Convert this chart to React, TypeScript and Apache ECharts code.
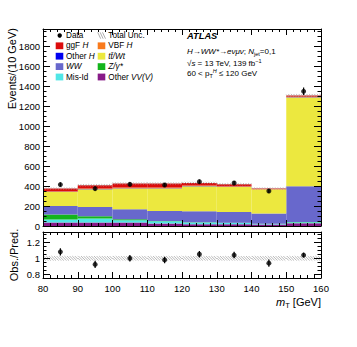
import React, { useEffect, useRef } from "react";
import * as echarts from "echarts";

// ---- data ----
const binLow = [80, 90, 100, 110, 120, 130, 140, 150];
const binWidth = 10;
const otherVV = [34, 34, 34, 24, 17, 17, 14, 27];
const misId = [30, 40, 23, 23, 17, 13, 6, 10];
const zGamma = [50, 23, 10, 3, 3, 2, 2, 2];
const wwBkg = [86, 93, 100, 100, 110, 108, 102, 358];
const topBkg = [140, 177, 207, 224, 250, 250, 240, 887];
const otherH = [3, 3, 3, 3, 3, 3, 2, 3];
const vbfH = [5, 5, 8, 8, 5, 5, 3, 5];
const ggfH = [26, 32, 39, 39, 25, 19, 5, 12];
const dataObs = [414, 374, 417, 410, 443, 430, 350, 1347];
const dataErr = [20, 19, 20, 20, 21, 21, 19, 37];
const ratioObs = [1.08, 0.925, 1.0, 0.98, 1.05, 1.04, 0.94, 1.04];
const ratioErr = [0.045, 0.045, 0.04, 0.04, 0.04, 0.04, 0.045, 0.03];
const mainUncRel = [0.03, 0.03, 0.028, 0.028, 0.028, 0.028, 0.03, 0.012];
const ratioUnc = [0.028, 0.028, 0.028, 0.028, 0.028, 0.028, 0.028, 0.028];
const xMajor = [80, 90, 100, 110, 120, 130, 140, 150, 160];
const xMinor = [82, 84, 86, 88, 92, 94, 96, 98, 102, 104, 106, 108, 112, 114, 116, 118, 122, 124, 126, 128, 132, 134, 136, 138, 142, 144, 146, 148, 152, 154, 156, 158];
const yMajor = [0, 200, 400, 600, 800, 1000, 1200, 1400, 1600, 1800];
const yMinor = [50, 100, 150, 250, 300, 350, 450, 500, 550, 650, 700, 750, 850, 900, 950, 1050, 1100, 1150, 1250, 1300, 1350, 1450, 1500, 1550, 1650, 1700, 1750, 1850, 1900, 1950];
const rMajor = [0.8, 1, 1.2];
const rMinor = [0.85, 0.9, 0.95, 1.05, 1.1, 1.15, 1.25, 1.3];

const components = [
  { name: "Other VV(V)", values: otherVV, color: "#881a88" },
  { name: "Mis-Id", values: misId, color: "#50e6e6" },
  { name: "Z/γ*", values: zGamma, color: "#14b41c" },
  { name: "WW", values: wwBkg, color: "#6868cc" },
  { name: "tt/Wt", values: topBkg, color: "#ece83f" },
  { name: "Other H", values: otherH, color: "#0000f0" },
  { name: "VBF H", values: vbfH, color: "#f97a1c" },
  { name: "ggF H", values: ggfH, color: "#dc0c0c" },
];

const FONT = "'Liberation Sans', Arial, Helvetica, sans-serif";

function axis(grid: number, position: string, min: number, max: number, ticks: number[], len: number, line: boolean, labels?: number[], extra?: any) {
  return {
    type: "value",
    gridIndex: grid,
    position,
    min,
    max,
    z: 10,
    axisLine: { show: line, onZero: false, lineStyle: { color: "#000", width: 1 } },
    axisTick: { show: true, inside: true, length: len, customValues: ticks, lineStyle: { color: "#000", width: 1 } },
    axisLabel: labels
      ? { show: true, customValues: labels, color: "#000", fontSize: 9.5, fontFamily: FONT, margin: 3, formatter: (v: number) => String(v), ...(extra || {}) }
      : { show: false },
    splitLine: { show: false },
    minorTick: { show: false },
  };
}

function rectRender(color: string) {
  return (params: any, api: any) => {
    const a = api.coord([api.value(0), api.value(3)]);
    const b = api.coord([api.value(1), api.value(2)]);
    return {
      type: "rect",
      shape: { x: a[0], y: a[1], width: b[0] - a[0], height: b[1] - a[1] },
      style: { fill: color },
    };
  };
}

function hatchRender(color: string) {
  return (params: any, api: any) => {
    const a = api.coord([api.value(0), api.value(3)]);
    const b = api.coord([api.value(1), api.value(2)]);
    const left = a[0], right = b[0], top = a[1], bot = b[1];
    const h = Math.max(bot - top, 0.8);
    const children: any[] = [];
    for (let s = left - h; s < right; s += 2.6) {
      const tmin = Math.max(0, (left - s) / h);
      const tmax = Math.min(1, (right - s) / h);
      if (tmax > tmin) {
        children.push({
          type: "line",
          shape: { x1: s + tmin * h, y1: top + tmin * h, x2: s + tmax * h, y2: top + tmax * h },
          style: { stroke: color, lineWidth: 0.7 },
        });
      }
    }
    return { type: "group", children };
  };
}

function errRender(params: any, api: any) {
  const a = api.coord([api.value(0), api.value(1) + api.value(2)]);
  const b = api.coord([api.value(0), api.value(1) - api.value(2)]);
  return {
    type: "line",
    shape: { x1: a[0], y1: a[1], x2: b[0], y2: b[1] },
    style: { stroke: "#000", lineWidth: 1.2 },
  };
}

export default function App() {
  const ref = useRef<HTMLDivElement>(null);
  useEffect(() => {
    if (!ref.current) return;
    const chart = echarts.init(ref.current, null, { renderer: "svg" });

    const series: any[] = [];
    const base = binLow.map(() => 0);
    components.forEach((c) => {
      const data = binLow.map((x, i) => {
        const d = [x, x + binWidth, base[i], base[i] + c.values[i]];
        base[i] += c.values[i];
        return d;
      });
      series.push({
        type: "custom",
        name: c.name,
        xAxisIndex: 0,
        yAxisIndex: 0,
        renderItem: rectRender(c.color),
        encode: { x: [0, 1], y: [2, 3] },
        data,
        z: 2,
        silent: true,
      });
    });
    const totals = base.slice();
    series.push({
      type: "custom",
      name: "Total Unc.",
      xAxisIndex: 0,
      yAxisIndex: 0,
      renderItem: hatchRender("#999"),
      encode: { x: [0, 1], y: [2, 3] },
      data: binLow.map((x, i) => [x, x + binWidth, totals[i] * (1 - mainUncRel[i]), totals[i] * (1 + mainUncRel[i])]),
      z: 3,
      silent: true,
    });
    series.push({
      type: "custom",
      name: "Data err",
      xAxisIndex: 0,
      yAxisIndex: 0,
      renderItem: errRender,
      encode: { x: 0, y: 1 },
      data: binLow.map((x, i) => [x + binWidth / 2, dataObs[i], dataErr[i]]),
      z: 4,
      silent: true,
    });
    series.push({
      type: "scatter",
      name: "Data",
      xAxisIndex: 0,
      yAxisIndex: 0,
      symbol: "circle",
      symbolSize: 5,
      itemStyle: { color: "#000" },
      data: binLow.map((x, i) => [x + binWidth / 2, dataObs[i]]),
      z: 5,
      silent: true,
    });
    // ratio panel
    series.push({
      type: "custom",
      name: "Ratio Unc.",
      xAxisIndex: 4,
      yAxisIndex: 4,
      renderItem: hatchRender("#999"),
      encode: { x: [0, 1], y: [2, 3] },
      data: binLow.map((x, i) => [x, x + binWidth, 1 - ratioUnc[i], 1 + ratioUnc[i]]),
      z: 3,
      silent: true,
    });
    series.push({
      type: "custom",
      name: "Ratio err",
      xAxisIndex: 4,
      yAxisIndex: 4,
      renderItem: errRender,
      encode: { x: 0, y: 1 },
      data: binLow.map((x, i) => [x + binWidth / 2, ratioObs[i], ratioErr[i]]),
      z: 4,
      silent: true,
    });
    series.push({
      type: "scatter",
      name: "Ratio",
      xAxisIndex: 4,
      yAxisIndex: 4,
      symbol: "circle",
      symbolSize: 5,
      itemStyle: { color: "#000" },
      data: binLow.map((x, i) => [x + binWidth / 2, ratioObs[i]]),
      z: 5,
      silent: true,
    });

    const yMax = 1970;
    const rMin = 0.757;
    const rMax = 1.325;

    // legend via graphic
    const rowY = [35.5, 45.8, 56.2, 66.6, 77.0];
    const col1 = [
      { kind: "dot" },
      { color: "#dc0c0c", text: "ggF {i|H}" },
      { color: "#0000f0", text: "Other {i|H}" },
      { color: "#6868cc", text: "{i|WW}" },
      { color: "#50e6e6", text: "Mis-Id" },
    ];
    const col2 = [
      { kind: "hatch", text: "Total Unc." },
      { color: "#f97a1c", text: "VBF {i|H}" },
      { color: "#ece83f", text: "{i|tt̄/Wt}" },
      { color: "#14b41c", text: "{i|Z/γ*}" },
      { color: "#881a88", text: "Other {i|VV(V)}" },
    ];
    const legendFont = 8.2;
    const rich = { i: { fontStyle: "italic", fontSize: legendFont, fontFamily: FONT, fill: "#000" } };
    const graphics: any[] = [];
    const addCol = (items: any[], boxX: number, textX: number) => {
      items.forEach((it, r) => {
        const cy = rowY[r];
        if (it.kind === "dot") {
          graphics.push({ type: "circle", shape: { cx: boxX + 4, cy, r: 2.2 }, style: { fill: "#000" } });
          graphics.push({ type: "text", x: textX, y: cy, style: { text: "Data", fontSize: legendFont, fontFamily: FONT, fill: "#000", verticalAlign: "middle" } });
          return;
        }
        if (it.kind === "hatch") {
          for (let k = 0; k < 3; k++) {
            graphics.push({ type: "line", shape: { x1: boxX + k * 2.4, y1: cy - 3.2, x2: boxX + k * 2.4 + 3, y2: cy + 3.2 }, style: { stroke: "#999", lineWidth: 0.8 } });
          }
        } else {
          graphics.push({ type: "rect", shape: { x: boxX, y: cy - 3.4, width: 7.6, height: 6.8 }, style: { fill: it.color } });
        }
        graphics.push({ type: "text", x: textX, y: cy, style: { text: it.text, rich, fontSize: legendFont, fontFamily: FONT, fill: "#000", verticalAlign: "middle" } });
      });
    };
    addCol(col1, 55.7, 66);
    addCol(col2, 97.7, 108.3);

    const annFont = 8;
    graphics.push({ type: "text", x: 187, y: 36, style: { text: "ATLAS", fontSize: 9.3, fontWeight: "bold", fontStyle: "italic", fontFamily: FONT, fill: "#000", verticalAlign: "middle" } });
    const annRich = {
      i: { fontStyle: "italic", fontSize: annFont, fontFamily: FONT, fill: "#000", lineHeight: 11 },
      n: { fontSize: annFont, fontFamily: FONT, fill: "#000", lineHeight: 11 },
      sub: { fontSize: 5.5, fontFamily: FONT, fill: "#000", verticalAlign: "bottom", lineHeight: 11 },
      sup: { fontSize: 5.5, fontFamily: FONT, fill: "#000", verticalAlign: "top", lineHeight: 11 },
      isup: { fontSize: 5.5, fontStyle: "italic", fontFamily: FONT, fill: "#000", verticalAlign: "top", lineHeight: 11 },
    };
    graphics.push({ type: "text", x: 187, y: 51.5, style: { text: "{i|H→WW*→eνμν}{n|; }{i|N}{sub|jet}{n|=0,1}", rich: annRich, verticalAlign: "middle" } });
    graphics.push({ type: "text", x: 187, y: 63.3, style: { text: "{n|√}{i|s}{n| = 13 TeV, 139 fb}{sup|−1}", rich: annRich, verticalAlign: "middle" } });
    graphics.push({ type: "text", x: 187, y: 73.5, style: { text: "{n|60 < p}{sub|T}{isup|H}{n| ≤ 120 GeV}", rich: annRich, verticalAlign: "middle" } });

    // axis titles
    graphics.push({ type: "text", x: 12, y: 28, rotation: Math.PI / 2, style: { text: "Events/(10 GeV)", fontSize: 11, fontFamily: FONT, fill: "#000", align: "right", verticalAlign: "middle" } });
    graphics.push({ type: "text", x: 13.5, y: 255, rotation: Math.PI / 2, style: { text: "Obs./Pred.", fontSize: 11, fontFamily: FONT, fill: "#000", align: "center", verticalAlign: "middle" } });
    graphics.push({
      type: "text", x: 321, y: 302,
      style: {
        text: "{m|m}{s|T}{n| [GeV]}",
        rich: {
          m: { fontSize: 11, fontStyle: "italic", fontFamily: FONT, fill: "#000", lineHeight: 14 },
          s: { fontSize: 7.5, fontFamily: FONT, fill: "#000", verticalAlign: "bottom", lineHeight: 14 },
          n: { fontSize: 11, fontFamily: FONT, fill: "#000", lineHeight: 14 },
        },
        align: "right", verticalAlign: "middle",
      },
    });

    const option: any = {
      animation: false,
      backgroundColor: "#fff",
      grid: [
        { left: 43, top: 29, width: 278, height: 197 },
        { left: 43, top: 232, width: 278, height: 46 },
      ],
      xAxis: [
        axis(0, "bottom", 80, 160, xMajor, 6, true),
        axis(0, "bottom", 80, 160, xMinor, 3, false),
        axis(0, "top", 80, 160, xMajor, 6, true),
        axis(0, "top", 80, 160, xMinor, 3, false),
        axis(1, "bottom", 80, 160, xMajor, 6, true, xMajor, { margin: 5 }),
        axis(1, "bottom", 80, 160, xMinor, 3, false),
        axis(1, "top", 80, 160, xMajor, 6, true),
        axis(1, "top", 80, 160, xMinor, 3, false),
      ],
      yAxis: [
        axis(0, "left", 0, yMax, yMajor, 7, true, yMajor),
        axis(0, "left", 0, yMax, yMinor, 3.5, false),
        axis(0, "right", 0, yMax, yMajor, 7, true),
        axis(0, "right", 0, yMax, yMinor, 3.5, false),
        axis(1, "left", rMin, rMax, rMajor, 7, true, rMajor),
        axis(1, "left", rMin, rMax, rMinor, 3.5, false),
        axis(1, "right", rMin, rMax, rMajor, 7, true),
        axis(1, "right", rMin, rMax, rMinor, 3.5, false),
      ],
      series,
      graphic: { elements: graphics },
    };
    chart.setOption(option);
    return () => chart.dispose();
  }, []);
  return <div ref={ref} style={{ position: "fixed", left: 0, top: 0, width: 357, height: 347, background: "#fff" }} />;
}
